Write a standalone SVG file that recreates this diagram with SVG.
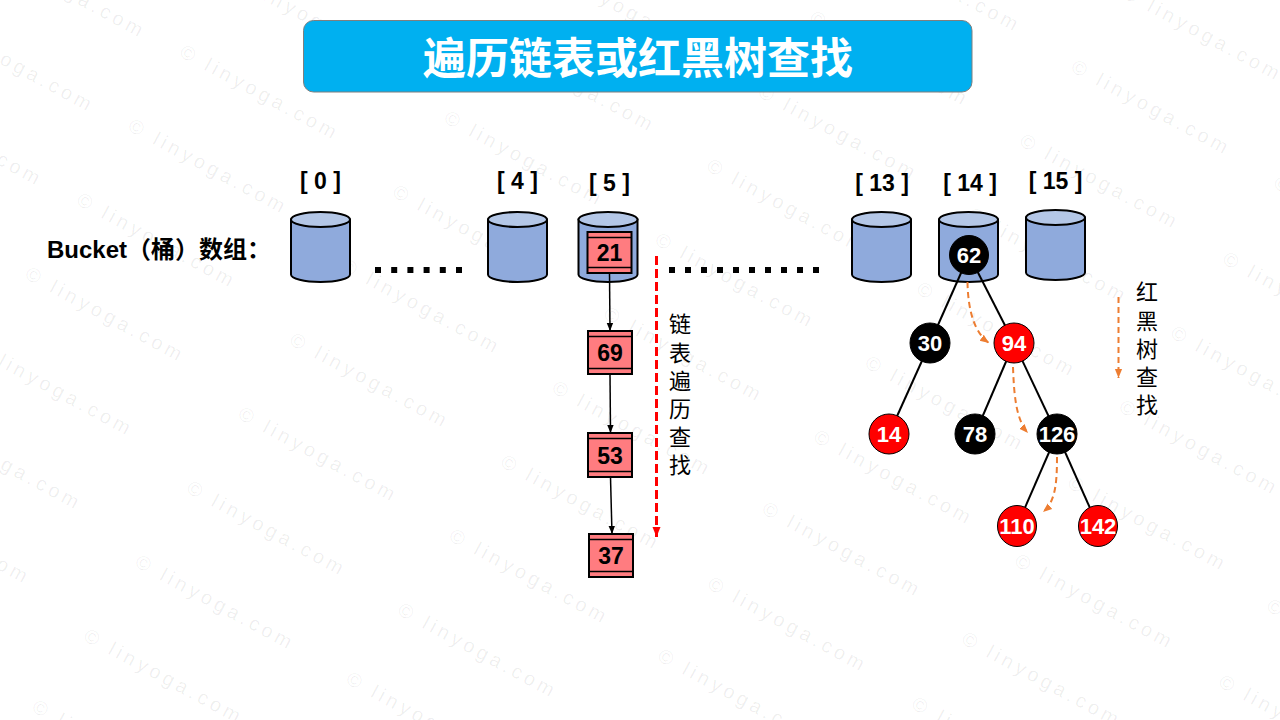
<svg xmlns="http://www.w3.org/2000/svg" xmlns:xlink="http://www.w3.org/1999/xlink" width="1280" height="720" viewBox="0 0 1280 720">
<style>
.wm{font-family:"Liberation Sans",Arial,sans-serif;font-size:20px;letter-spacing:4px;fill:#000;fill-opacity:0.065}
.lbl{font-family:"Liberation Sans","Noto Sans CJK SC",sans-serif;font-weight:bold;font-size:23px;fill:#000;text-anchor:middle}
.bucket{font-family:"Liberation Sans","Noto Sans CJK SC",sans-serif;font-weight:bold;font-size:24px;fill:#000}
.title{font-family:"Noto Sans CJK SC","Liberation Sans",sans-serif;font-weight:bold;font-size:43px;fill:#fff;text-anchor:middle}
.vtxt{font-family:"Noto Sans CJK SC",sans-serif;font-size:22px;fill:#000;writing-mode:vertical-rl;letter-spacing:6.2px}
.lbox{fill:#FF7C80;stroke:#000;stroke-width:2}
.band{stroke:#000;stroke-width:1.5}
.ltxt{font-family:"Liberation Sans",Arial,sans-serif;font-weight:bold;font-size:23px;fill:#000;text-anchor:middle}
.blk{fill:#000;stroke:#000;stroke-width:1}
.red{fill:#FF0000;stroke:#000;stroke-width:1}
.ctxt{font-family:"Liberation Sans",Arial,sans-serif;font-weight:bold;font-size:22px;fill:#fff;text-anchor:middle}
.edge{stroke:#000;stroke-width:2}
.link{stroke:#000;stroke-width:1.5;fill:none}
.odash{stroke:#ED7D31;stroke-width:2;stroke-dasharray:6 4;fill:none}
.rdash{stroke:#FF0000;stroke-width:3;stroke-dasharray:9 4;fill:none}
.dots{stroke:#000;stroke-width:6}
</style>
<defs>
<text id="wm" class="wm" x="-7.4" y="7">© linyoga.com</text>
<g id="cyl">
<path d="M-29.5,0 V55 A29.5,7.5 0 0 0 29.5,55 V0 Z" fill="#8FAADC" stroke="#000" stroke-width="2"/>
<ellipse cx="0" cy="0" rx="29.5" ry="7.5" fill="#B4C7E7" stroke="#000" stroke-width="2"/>
</g>
<marker id="ab" viewBox="0 0 10 10" refX="10" refY="5" markerUnits="userSpaceOnUse" markerWidth="8" markerHeight="8" orient="auto">
<path d="M0,1 L10,5 L0,9 Z" fill="#000"/>
</marker>
<marker id="ar" viewBox="0 0 10 10" refX="10" refY="5" markerUnits="userSpaceOnUse" markerWidth="10" markerHeight="10" orient="auto">
<path d="M0,1 L10,5 L0,9 Z" fill="#FF0000"/>
</marker>
<marker id="ao" viewBox="0 0 10 10" refX="10" refY="5" markerUnits="userSpaceOnUse" markerWidth="9" markerHeight="9" orient="auto">
<path d="M0,1 L10,5 L0,9 Z" fill="#ED7D31"/>
</marker>
</defs>
<rect width="1280" height="720" fill="#fff"/>
<g id="watermark">
<use xlink:href="#wm" transform="translate(-5.5,-49) rotate(28.5)"/>
<use xlink:href="#wm" transform="translate(-57,25) rotate(28.5)"/>
<use xlink:href="#wm" transform="translate(-108.5,99) rotate(28.5)"/>
<use xlink:href="#wm" transform="translate(239.5,-21) rotate(28.5)"/>
<use xlink:href="#wm" transform="translate(188,53) rotate(28.5)"/>
<use xlink:href="#wm" transform="translate(136.5,127) rotate(28.5)"/>
<use xlink:href="#wm" transform="translate(85,201) rotate(28.5)"/>
<use xlink:href="#wm" transform="translate(33.5,275) rotate(28.5)"/>
<use xlink:href="#wm" transform="translate(-18,349) rotate(28.5)"/>
<use xlink:href="#wm" transform="translate(-69.5,423) rotate(28.5)"/>
<use xlink:href="#wm" transform="translate(-121,497) rotate(28.5)"/>
<use xlink:href="#wm" transform="translate(555.5,-29) rotate(28.5)"/>
<use xlink:href="#wm" transform="translate(504,45) rotate(28.5)"/>
<use xlink:href="#wm" transform="translate(452.5,119) rotate(28.5)"/>
<use xlink:href="#wm" transform="translate(401,193) rotate(28.5)"/>
<use xlink:href="#wm" transform="translate(349.5,267) rotate(28.5)"/>
<use xlink:href="#wm" transform="translate(298,341) rotate(28.5)"/>
<use xlink:href="#wm" transform="translate(246.5,415) rotate(28.5)"/>
<use xlink:href="#wm" transform="translate(195,489) rotate(28.5)"/>
<use xlink:href="#wm" transform="translate(143.5,563) rotate(28.5)"/>
<use xlink:href="#wm" transform="translate(92,637) rotate(28.5)"/>
<use xlink:href="#wm" transform="translate(40.5,708) rotate(28.5)"/>
<use xlink:href="#wm" transform="translate(869.5,-55) rotate(28.5)"/>
<use xlink:href="#wm" transform="translate(818,19) rotate(28.5)"/>
<use xlink:href="#wm" transform="translate(766.5,93) rotate(28.5)"/>
<use xlink:href="#wm" transform="translate(715,167) rotate(28.5)"/>
<use xlink:href="#wm" transform="translate(663.5,241) rotate(28.5)"/>
<use xlink:href="#wm" transform="translate(612,315) rotate(28.5)"/>
<use xlink:href="#wm" transform="translate(560.5,389) rotate(28.5)"/>
<use xlink:href="#wm" transform="translate(509,463) rotate(28.5)"/>
<use xlink:href="#wm" transform="translate(457.5,537) rotate(28.5)"/>
<use xlink:href="#wm" transform="translate(406,611) rotate(28.5)"/>
<use xlink:href="#wm" transform="translate(354.5,680) rotate(28.5)"/>
<use xlink:href="#wm" transform="translate(1131,-6) rotate(28.5)"/>
<use xlink:href="#wm" transform="translate(1079.5,68) rotate(28.5)"/>
<use xlink:href="#wm" transform="translate(1028,142) rotate(28.5)"/>
<use xlink:href="#wm" transform="translate(976.5,216) rotate(28.5)"/>
<use xlink:href="#wm" transform="translate(925,290) rotate(28.5)"/>
<use xlink:href="#wm" transform="translate(873.5,364) rotate(28.5)"/>
<use xlink:href="#wm" transform="translate(822,438) rotate(28.5)"/>
<use xlink:href="#wm" transform="translate(770.5,510) rotate(28.5)"/>
<use xlink:href="#wm" transform="translate(716,585) rotate(28.5)"/>
<use xlink:href="#wm" transform="translate(666,657) rotate(28.5)"/>
<use xlink:href="#wm" transform="translate(1282,184) rotate(28.5)"/>
<use xlink:href="#wm" transform="translate(1231,260) rotate(28.5)"/>
<use xlink:href="#wm" transform="translate(1179,334) rotate(28.5)"/>
<use xlink:href="#wm" transform="translate(1127.5,408) rotate(28.5)"/>
<use xlink:href="#wm" transform="translate(1076,484) rotate(28.5)"/>
<use xlink:href="#wm" transform="translate(1023,562) rotate(28.5)"/>
<use xlink:href="#wm" transform="translate(970,640) rotate(28.5)"/>
<use xlink:href="#wm" transform="translate(920,705) rotate(28.5)"/>
<use xlink:href="#wm" transform="translate(1275,607) rotate(28.5)"/>
<use xlink:href="#wm" transform="translate(1227,683) rotate(28.5)"/>
</g>
<g id="title">
<rect x="303.5" y="20.5" width="668.5" height="71.5" rx="10" fill="#00B0F0" stroke="#7F7F7F" stroke-width="1"/>
<text class="title" x="638" y="74">遍历链表或红黑树查找</text>
</g>
<g id="bucket-label">
<text class="bucket" x="47" y="258">Bucket（桶）数组：</text>
</g>
<g id="bucket0">
<text class="lbl" x="320.5" y="189">[ 0 ]</text>
<use xlink:href="#cyl" x="320.5" y="219.5"/>
</g>
<g id="bucket4">
<text class="lbl" x="517.5" y="189">[ 4 ]</text>
<use xlink:href="#cyl" x="517.5" y="219.5"/>
</g>
<g id="bucket5">
<text class="lbl" x="609.5" y="191">[ 5 ]</text>
<use xlink:href="#cyl" x="608" y="219.5"/>
</g>
<g id="bucket13">
<text class="lbl" x="882" y="191">[ 13 ]</text>
<use xlink:href="#cyl" x="881.5" y="219.5"/>
</g>
<g id="bucket14">
<text class="lbl" x="970" y="191">[ 14 ]</text>
<use xlink:href="#cyl" x="968.5" y="219.5"/>
</g>
<g id="bucket15">
<text class="lbl" x="1055.5" y="189">[ 15 ]</text>
<use xlink:href="#cyl" x="1055.5" y="217.5"/>
</g>
<g id="ellipsis">
<line class="dots" x1="375" y1="270" x2="462" y2="270" stroke-dasharray="6 10.2"/>
<line class="dots" x1="669" y1="270" x2="819" y2="270" stroke-dasharray="6 10"/>
</g>
<g id="connectors">
<line class="link" x1="609.5" y1="273" x2="610" y2="331" marker-end="url(#ab)"/>
<line class="link" x1="610" y1="374" x2="610.5" y2="433" marker-end="url(#ab)"/>
<line class="link" x1="610.5" y1="477" x2="612" y2="534" marker-end="url(#ab)"/>
<line class="rdash" x1="656.5" y1="256" x2="656.5" y2="537" marker-end="url(#ar)"/>
<line class="edge" x1="969" y1="255" x2="930" y2="343"/>
<line class="edge" x1="969" y1="255" x2="1014" y2="343"/>
<line class="edge" x1="930" y1="343" x2="889" y2="434"/>
<line class="edge" x1="1014" y1="343" x2="975" y2="434"/>
<line class="edge" x1="1014" y1="343" x2="1057" y2="434"/>
<line class="edge" x1="1057" y1="434" x2="1017" y2="526"/>
<line class="edge" x1="1057" y1="434" x2="1098" y2="526"/>
<path class="odash" d="M967.5,282 C968,312 975,333 989,343" marker-end="url(#ao)"/>
<path class="odash" d="M1013,367 C1014,395 1016,420 1028,433" marker-end="url(#ao)"/>
<path class="odash" d="M1057,457 C1057,485 1055,502 1043,512" marker-end="url(#ao)"/>
<line class="odash" x1="1118.5" y1="297" x2="1118.5" y2="378" marker-end="url(#ao)"/>
</g>
<g id="n21">
<rect class="lbox" x="587.5" y="232" width="44" height="41"/>
<line class="band" x1="587.5" y1="237.5" x2="631.5" y2="237.5"/>
<line class="band" x1="587.5" y1="267.5" x2="631.5" y2="267.5"/>
<text class="ltxt" x="609.5" y="261">21</text>
</g>
<g id="n69">
<rect class="lbox" x="588" y="331" width="44" height="43"/>
<line class="band" x1="588" y1="336.5" x2="632" y2="336.5"/>
<line class="band" x1="588" y1="368.5" x2="632" y2="368.5"/>
<text class="ltxt" x="610" y="361">69</text>
</g>
<g id="n53">
<rect class="lbox" x="588" y="433" width="44" height="44"/>
<line class="band" x1="588" y1="438.5" x2="632" y2="438.5"/>
<line class="band" x1="588" y1="471.5" x2="632" y2="471.5"/>
<text class="ltxt" x="610" y="463.5">53</text>
</g>
<g id="n37">
<rect class="lbox" x="589" y="534" width="44" height="43"/>
<line class="band" x1="589" y1="539.5" x2="633" y2="539.5"/>
<line class="band" x1="589" y1="571.5" x2="633" y2="571.5"/>
<text class="ltxt" x="611" y="564">37</text>
</g>
<g id="list-label">
<text class="vtxt" x="680" y="313">链表遍历查找</text>
</g>
<g id="t62"><circle class="blk" cx="969" cy="255" r="19.5"/><text class="ctxt" x="969" y="263">62</text></g>
<g id="t30"><circle class="blk" cx="930" cy="343" r="20"/><text class="ctxt" x="930" y="351">30</text></g>
<g id="t94"><circle class="red" cx="1014" cy="343" r="20"/><text class="ctxt" x="1014" y="351">94</text></g>
<g id="t14"><circle class="red" cx="889" cy="434" r="20"/><text class="ctxt" x="889" y="442">14</text></g>
<g id="t78"><circle class="blk" cx="975" cy="434" r="20"/><text class="ctxt" x="975" y="442">78</text></g>
<g id="t126"><circle class="blk" cx="1057" cy="434" r="20"/><text class="ctxt" x="1057" y="442">126</text></g>
<g id="t110"><ellipse class="red" cx="1017" cy="526" rx="19.5" ry="20.5"/><text class="ctxt" x="1017" y="534">110</text></g>
<g id="t142"><ellipse class="red" cx="1098" cy="526" rx="19.5" ry="20.5"/><text class="ctxt" x="1098" y="534">142</text></g>
<g id="tree-label">
<text class="vtxt" x="1147" y="281">红黑树查找</text>
</g>
</svg>
